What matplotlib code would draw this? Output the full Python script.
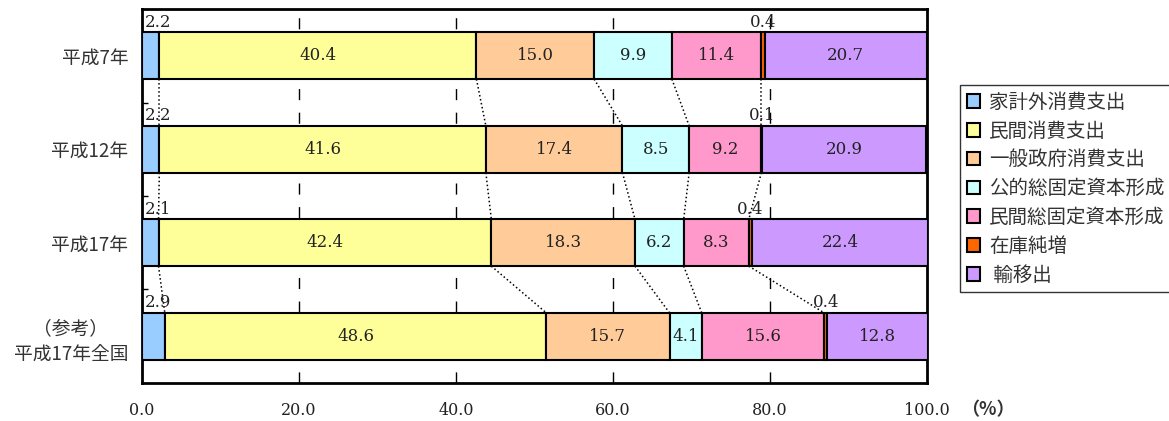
import numpy as np
import matplotlib.pyplot as plt

plt.rcParams['font.family'] = ['Noto Sans CJK JP', 'DejaVu Sans']

rows = ['平成7年', '平成12年', '平成17年', '（参考）\n平成17年全国']
items = ['家計外消費支出', '民間消費支出', '一般政府消費支出', '公的総固定資本形成',
         '民間総固定資本形成', '在庫純増', ' 輸移出']
colors = ['#99CCFF', '#FFFF99', '#FFCC99', '#CCFFFF', '#FF99CC', '#FF6600', '#CC99FF']

# shares (%) per row, in item order
h7 = [2.2, 40.4, 15.0, 9.9, 11.4, 0.4, 20.7]
h12 = [2.2, 41.6, 17.4, 8.5, 9.2, 0.1, 20.9]
h17 = [2.1, 42.4, 18.3, 6.2, 8.3, 0.4, 22.4]
zenkoku = [2.9, 48.6, 15.7, 4.1, 15.6, 0.4, 12.8]

data = np.array([h7, h12, h17, zenkoku])
num_font = 'DejaVu Serif'
bar_h = 0.5

fig = plt.figure(figsize=(11.69, 4.21), dpi=100)
ax = fig.add_axes([0.1215, 0.0903, 0.6715, 0.8883])

y = np.arange(len(rows))
left = np.zeros(len(rows))
for j, name in enumerate(items):
    vals = data[:, j]
    ax.barh(y, vals, left=left, height=bar_h, color=colors[j],
            edgecolor='black', linewidth=1.5, label=name, zorder=3)
    for i, v in enumerate(vals):
        if j == 0:
            ax.text(0.4, y[i] - bar_h / 2 - 0.02, f'{v:.1f}', ha='left', va='bottom',
                    fontsize=12, family=num_font, color='#222222', zorder=5)
        elif j == 5:
            ax.text(left[i] + v / 2, y[i] - bar_h / 2 - 0.02, f'{v:.1f}', ha='center',
                    va='bottom', fontsize=12, family=num_font, color='#222222', zorder=5)
        else:
            ax.text(left[i] + v / 2, y[i], f'{v:.1f}', ha='center', va='center',
                    fontsize=12, family=num_font, color='#222222', zorder=5)
    left = left + vals

# dotted lines joining segment boundaries of neighbouring bars
cum = np.cumsum(data, axis=1)
for i in range(len(rows) - 1):
    for k in range(5):
        ax.plot([cum[i, k], cum[i + 1, k]], [y[i] + bar_h / 2, y[i + 1] - bar_h / 2],
                linestyle=':', color='black', linewidth=1.1, zorder=4)

ax.set_xlim(0, 100)
ax.set_ylim(3.5, -0.5)
ax.set_xticks(np.arange(0, 101, 20))
ax.set_xticklabels([f'{t:.1f}' for t in np.arange(0, 101, 20)], family=num_font,
                   fontsize=11.5, color='#222222')
ax.tick_params(axis='x', length=0, pad=14)
ax.set_yticks(y)
ax.set_yticklabels(rows, fontsize=13.5, color='#333333', multialignment='center',
                   linespacing=1.35)
ax.tick_params(axis='y', length=0, pad=10)
ax.set_yticks([0.5, 1.5, 2.5], minor=True)
ax.tick_params(axis='y', which='minor', direction='in', length=4, width=1)

for x in [20, 40, 60, 80]:
    ax.axvline(x, color='black', linestyle=(0, (8, 9)), linewidth=1, zorder=1)

for s in ax.spines.values():
    s.set_linewidth(2)
    s.set_color('black')

fig.text(0.822, 0.026, '（%）', ha='left', va='center', fontsize=13,
         fontweight='bold', color='#333333')

leg = fig.legend(loc='upper left', bbox_to_anchor=(0.821, 0.798), fontsize=14,
                 frameon=True, fancybox=False, edgecolor='black', handlelength=0.7,
                 handleheight=0.7, handletextpad=0.45, labelspacing=0.4, borderpad=0.35,
                 borderaxespad=0)
leg.get_frame().set_linewidth(1)
for t in leg.get_texts():
    t.set_color('#333333')

fig.savefig('out.png', dpi=100)
